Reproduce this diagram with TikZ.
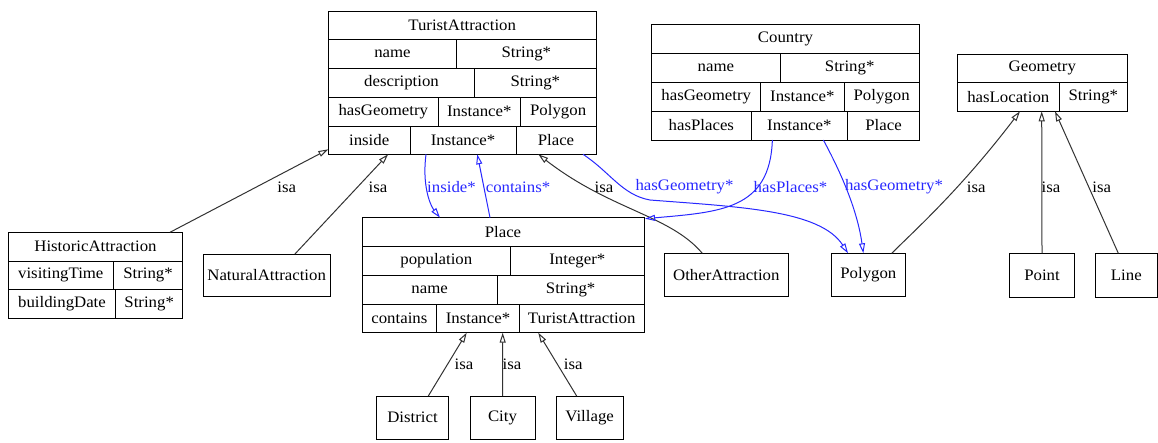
\documentclass[tikz,border=0pt]{standalone}
\usepackage{fontspec}
\setmainfont{Liberation Serif}[FakeStretch=1.05]
\usetikzlibrary{arrows.meta}
\definecolor{edgeblue}{RGB}{40,40,255}
\definecolor{edgegray}{RGB}{50,50,50}
\newcommand{\rc}[6]{\node[rcell, minimum width={#4-#2}, minimum height={#5-#3}] (#1) at ({(#2+#4)/2},{(#3+#5)/2}) {#6};}
\begin{document}
\begin{tikzpicture}[x=1pt, y=-1pt,
  font=\fontsize{16}{19}\selectfont,
  rcell/.style={draw, line width=1pt, inner sep=0pt, outer sep=0pt, anchor=center, text=black},
  tipo/.style={-{Triangle[open,length=10pt,width=6pt]}},
  isa/.style={draw=edgegray, line width=1pt, tipo},
  rel/.style={draw=edgeblue, line width=1pt, tipo},
  lbl/.style={inner sep=0pt, text=black},
  blbl/.style={inner sep=0pt, text=edgeblue}]
\useasboundingbox (0,0) rectangle (1158,442);
% TuristAttraction
\rc{ta}{328.3}{11}{596}{39.3}{TuristAttraction}
\rc{ta-n1}{328.3}{39.3}{456.7}{68.3}{name}
\rc{ta-n2}{456.7}{39.3}{596}{68.3}{String*}
\rc{ta-d1}{328.3}{68.3}{474.7}{97.3}{description}
\rc{ta-d2}{474.7}{68.3}{596}{97.3}{String*}
\rc{ta-g1}{328.3}{97.3}{438.3}{126}{hasGeometry}
\rc{ta-g2}{438.3}{97.3}{520.3}{126}{Instance*}
\rc{ta-g3}{520.3}{97.3}{596}{126}{Polygon}
\rc{ta-i1}{328.3}{126}{410}{154.3}{inside}
\rc{ta-i2}{410}{126}{516}{154.3}{Instance*}
\rc{ta-i3}{516}{126}{596}{154.3}{Place}
% Country
\rc{co}{651.7}{24.3}{919.3}{53.3}{Country}
\rc{co-n1}{651.7}{53.3}{780}{82.3}{name}
\rc{co-n2}{780}{53.3}{919.3}{82.3}{String*}
\rc{co-g1}{651.7}{82.3}{760.7}{111}{hasGeometry}
\rc{co-g2}{760.7}{82.3}{844}{111}{Instance*}
\rc{co-g3}{844}{82.3}{919.3}{111}{Polygon}
\rc{co-p1}{651.7}{111}{751}{140}{hasPlaces}
\rc{co-p2}{751}{111}{847.7}{140}{Instance*}
\rc{co-p3}{847.7}{111}{919.3}{140}{Place}
% Geometry
\rc{ge}{957.3}{54}{1127.3}{82.7}{Geometry}
\rc{ge-l1}{957.3}{82.7}{1059.3}{111.3}{hasLocation}
\rc{ge-l2}{1059.3}{82.7}{1127.3}{111.3}{String*}
% HistoricAttraction
\rc{ha}{8.3}{232.3}{182.7}{261}{HistoricAttraction}
\rc{ha-v1}{8.3}{261}{113.3}{289.7}{visitingTime}
\rc{ha-v2}{113.3}{261}{182.7}{289.7}{String*}
\rc{ha-b1}{8.3}{289.7}{115.7}{318.3}{buildingDate}
\rc{ha-b2}{115.7}{289.7}{182.7}{318.3}{String*}
% simple boxes
\rc{na}{203.3}{254}{330}{296.7}{NaturalAttraction}
\rc{oa}{664.3}{253.3}{788.3}{296.7}{OtherAttraction}
\rc{po}{831.7}{253.3}{905}{296.7}{Polygon}
\rc{pt}{1009.3}{253.3}{1074.7}{297.3}{Point}
\rc{ln}{1095.3}{253.3}{1157.3}{297.3}{Line}
% Place
\rc{pl}{362}{217.7}{644}{246.7}{Place}
\rc{pl-p1}{362}{246.7}{510.7}{275.3}{population}
\rc{pl-p2}{510.7}{246.7}{644}{275.3}{Integer*}
\rc{pl-n1}{362}{275.3}{497.3}{304}{name}
\rc{pl-n2}{497.3}{275.3}{644}{304}{String*}
\rc{pl-c1}{362}{304}{436.7}{332.7}{contains}
\rc{pl-c2}{436.7}{304}{519.3}{332.7}{Instance*}
\rc{pl-c3}{519.3}{304}{644}{332.7}{TuristAttraction}
% bottom
\rc{di}{376.7}{396}{448.3}{439.3}{District}
\rc{ci}{470}{396}{535}{439.3}{City}
\rc{vi}{556}{396}{623.3}{439.3}{Village}
% edges
\draw[isa] ([xshift=74.5pt]ha.north) -- ([yshift=5pt]ta-i1.south west);
\node[lbl] (l1) at (286.7,187) {isa};
\draw[isa] ([xshift=28.3pt]na.north) -- ([xshift=19pt]ta-i1.south);
\node[lbl] (l2) at (378,187) {isa};
\draw[rel] ([xshift=-37pt]ta-i2.south) .. controls (422,185) and (430,205) .. ([xshift=-63pt]pl.north);
\node[blbl] (l3) at (451.5,187) {inside*};
\draw[rel] ([xshift=-13pt]pl.north) -- ([xshift=14.3pt]ta-i2.south);
\node[blbl] (l4) at (518,187) {contains*};
\draw[isa] ([xshift=-24pt]oa.north) .. controls (670,215) and (610,210) .. ([xshift=-17.7pt]ta-i3.south);
\node[lbl] (l5) at (604,187) {isa};
\draw[rel] ([xshift=27pt]ta-i3.south) .. controls (610,172) and (622,195) .. (650,200) .. controls (740,207) and (820,210) .. ([xshift=-20.3pt]po.north);
\node[blbl] (l6) at (684.5,187) {hasGeometry*};
\draw[rel] ([xshift=-27pt]co-p2.south) .. controls (770,210) and (720,212) .. ([xshift=1pt,yshift=-1pt]pl.north east);
\node[blbl] (l7) at (790.5,187) {hasPlaces*};
\draw[rel] ([xshift=24pt]co-p2.south) .. controls (845,180) and (858,215) .. ([xshift=-5pt]po.north);
\node[blbl] (l8) at (894,187) {hasGeometry*};
\draw[isa] ([xshift=23.4pt]po.north) .. controls (915,230) and (960,190) .. ([xshift=11.7pt]ge-l1.south);
\node[lbl] (l9) at (976.3,187) {isa};
\draw[isa] (pt.north) -- ([xshift=33.4pt]ge-l1.south);
\node[lbl] (l10) at (1051,187) {isa};
\draw[isa] ([xshift=-8pt]ln.north) -- ([xshift=46.7pt]ge-l1.south);
\node[lbl] (l11) at (1101.7,187) {isa};
\draw[isa] ([xshift=15.8pt]di.north) -- ([xshift=-11.3pt]pl-c2.south);
\node[lbl] (l12) at (464,364) {isa};
\draw[isa] (ci.north) -- ([xshift=24.7pt]pl-c2.south);
\node[lbl] (l13) at (512,364) {isa};
\draw[isa] ([xshift=-13pt]vi.north) -- ([xshift=-43.4pt]pl-c3.south);
\node[lbl] (l14) at (573.3,364) {isa};
\end{tikzpicture}
\end{document}
